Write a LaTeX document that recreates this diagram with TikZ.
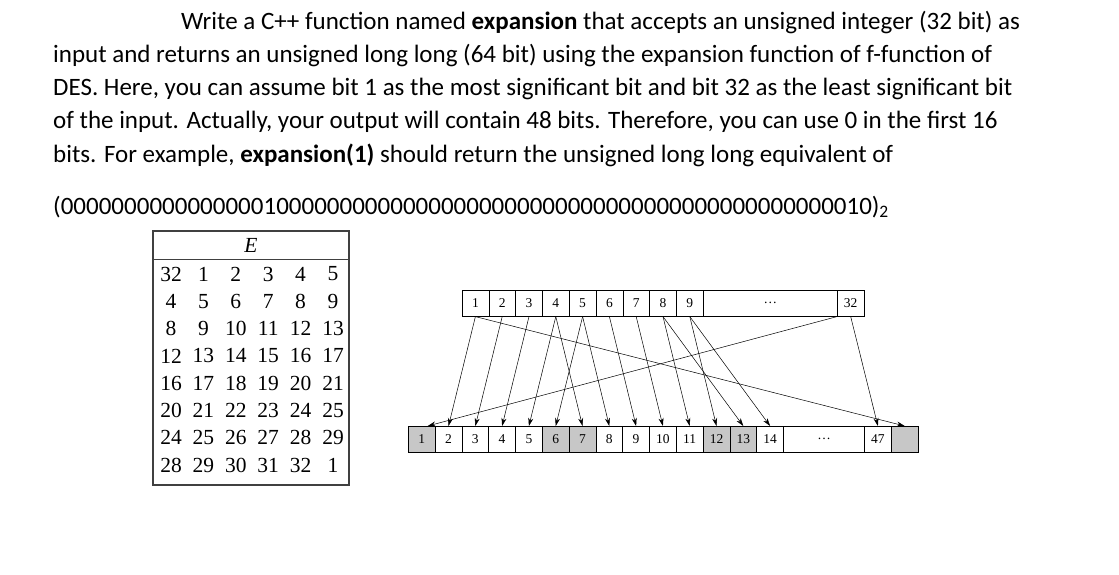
\documentclass[tikz,border=0pt]{standalone}
\usepackage{fontspec}
\setmainfont{Carlito}
\newfontfamily\tms{Liberation Serif}
\usetikzlibrary{arrows.meta}
\begin{document}
\begin{tikzpicture}[x=1pt,y=-1pt,
  txt/.style={anchor=base west,inner sep=0,font=\fontsize{25}{28}\selectfont},
  cell/.style={draw,line width=0.6pt,minimum width=26.8pt,minimum height=26pt,inner sep=0,anchor=north west,font=\tms\fontsize{13.5}{15}\selectfont},
  gcell/.style={cell,fill=black!22},
  ecell/.style={anchor=center,inner sep=0,font=\tms\fontsize{21.5}{23}\selectfont},
  arr/.style={-{Stealth[length=8pt,width=5pt]},line width=0.5pt}]
\useasboundingbox (0,0) rectangle (1119,575);
\node[txt] (l1) at (181,30) {Write a C++ function named \textbf{expansion} that accepts an unsigned integer (32 bit) as};
\node[txt] (l2) at (53,63) {input and returns an unsigned long long (64 bit) using the expansion function of f-function of};
\node[txt] (l3) at (53,96) {DES. Here, you can assume bit 1 as the most significant bit and bit 32 as the least significant bit};
\node[txt] (l4) at (53,129) {of the input. Actually, your output will contain 48 bits. Therefore, you can use 0 in the first 16};
\node[txt] (l5) at (53,162) {bits. For example, \textbf{expansion(1)} should return the unsigned long long equivalent of};
\node[txt] (l6) at (53,214) {(0000000000000000100000000000000000000000000000000000000000000010)\textsubscript{2}};
% table E
\draw[line width=1.3pt,draw=black!75] (153,231) rectangle (349,485);
\draw[line width=1pt,draw=black!75] (153,259) -- (349,259);
\node[ecell] (eh) at (251,245) {\textit{E}};
\foreach \row [count=\r from 0] in {{32,1,2,3,4,5},{4,5,6,7,8,9},{8,9,10,11,12,13},{12,13,14,15,16,17},{16,17,18,19,20,21},{20,21,22,23,24,25},{24,25,26,27,28,29},{28,29,30,31,32,1}}{
  \foreach \v [count=\c from 0] in \row {
    \node[ecell] (e\r\c) at ({171+32.4*\c},{274+27.3*\r}) {\v};
  }
}
% top row
\foreach \i in {1,...,9}{\node[cell] (t\i) at ({461.7+26.8*(\i-1)},290) {\i};}
\node[cell,minimum width=134pt] (tdots) at (703,290) {\dots};
\node[cell] (t32) at (837,290) {32};
% bottom row
\foreach \i in {1,...,14}{
  \ifnum\i=1 \node[gcell] (b\i) at ({408+26.8*(\i-1)},426) {\i};
  \else\ifnum\i=6 \node[gcell] (b\i) at ({408+26.8*(\i-1)},426) {\i};
  \else\ifnum\i=7 \node[gcell] (b\i) at ({408+26.8*(\i-1)},426) {\i};
  \else\ifnum\i=12 \node[gcell] (b\i) at ({408+26.8*(\i-1)},426) {\i};
  \else\ifnum\i=13 \node[gcell] (b\i) at ({408+26.8*(\i-1)},426) {\i};
  \else \node[cell] (b\i) at ({408+26.8*(\i-1)},426) {\i};
  \fi\fi\fi\fi\fi}
\node[cell,minimum width=81pt] (bdots) at (783.2,426) {\dots};
\node[cell] (b47) at (864.2,426) {47};
\node[gcell] (b48) at (891,426) {};
% arrows
\foreach \a/\b in {1/2,2/3,3/4,4/5,4/7,5/6,5/8,6/9,7/10,8/11,8/13,9/12,9/14}{
  \draw[arr] (t\a.south) -- (b\b.north);
}
\draw[arr] (t32.south west) -- ([xshift=6pt]b1.north);
\draw[arr] (t32.south) -- (b47.north);
\draw[arr] (t1.south) -- (b48.north);
\end{tikzpicture}
\end{document}
